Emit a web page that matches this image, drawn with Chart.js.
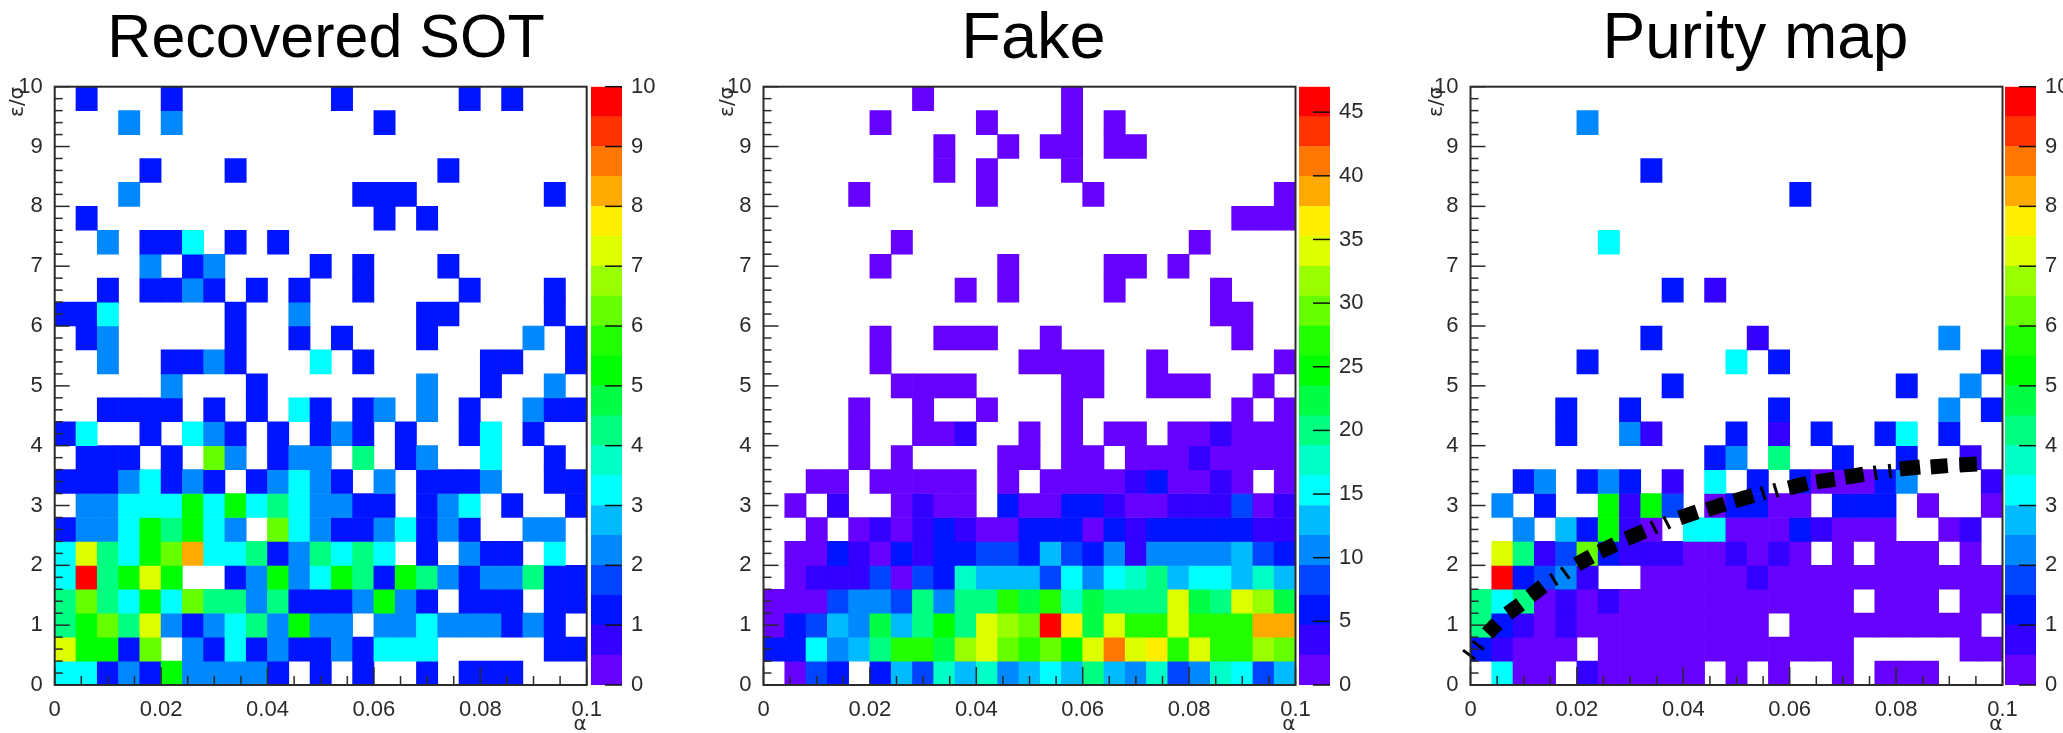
<!DOCTYPE html>
<html><head><meta charset="utf-8">
<script src="https://cdn.jsdelivr.net/npm/chart.js@4/dist/chart.umd.js"></script>
<style>html,body{margin:0;padding:0;background:#fff;width:2063px;height:733px;overflow:hidden}canvas{position:absolute;top:0}</style>
</head><body>
<script>
// bin centres of the alpha axis
const alphaBins = ["0.002","0.006","0.010","0.014","0.018","0.022","0.026","0.030","0.034","0.038","0.042","0.046","0.050","0.054","0.058","0.062","0.066","0.070","0.074","0.078","0.082","0.086","0.090","0.094","0.098"];
// lower edges of the epsilon/sigma rows, top row first
const rowLow = [9.6,9.2,8.8,8.4,8.0,7.6,7.2,6.8,6.4,6.0,5.6,5.2,4.8,4.4,4.0,3.6,3.2,2.8,2.4,2.0,1.6,1.2,0.8,0.4,0.0];
const palette = ["#6600ff","#3300ff","#0014ff","#0044ff","#0088ff","#00bbff","#00ffff","#00ffc8","#00ff80","#00ff44","#00ff00","#22ff00","#66ff00","#99ff00","#ddff00","#ffee00","#ffaa00","#ff7700","#ff3300","#ff0000"];
const alphaTicks = [0,0.02,0.04,0.06,0.08,0.1];
const alphaMinor = [0.005,0.01,0.015,0.025,0.03,0.035,0.045,0.05,0.055,0.065,0.07,0.075,0.085,0.09,0.095];
const epsTicks = [0,1,2,3,4,5,6,7,8,9,10];
const epsMinor = [0.2,0.4,0.6,0.8,1.2,1.4,1.6,1.8,2.2,2.4,2.6,2.8,3.2,3.4,3.6,3.8,4.2,4.4,4.6,4.8,5.2,5.4,5.6,5.8,6.2,6.4,6.6,6.8,7.2,7.4,7.6,7.8,8.2,8.4,8.6,8.8,9.2,9.4,9.6,9.8];
const barTicksSot = [0,1,2,3,4,5,6,7,8,9,10];
const barTicksFake = [0,5,10,15,20,25,30,35,40,45];
const titles = ["Recovered SOT","Fake","Purity map"];

const recoveredSot = [
[0,1,0,0,0,1,0,0,0,0,0,0,0,1,0,0,0,0,0,1,0,1,0,0,0],
[0,0,0,2,0,2,0,0,0,0,0,0,0,0,0,1,0,0,0,0,0,0,0,0,0],
[0,0,0,0,0,0,0,0,0,0,0,0,0,0,0,0,0,0,0,0,0,0,0,0,0],
[0,0,0,0,1,0,0,0,1,0,0,0,0,0,0,0,0,0,1,0,0,0,0,0,0],
[0,0,0,2,0,0,0,0,0,0,0,0,0,0,1,1,1,0,0,0,0,0,0,1,0],
[0,1,0,0,0,0,0,0,0,0,0,0,0,0,0,1,0,1,0,0,0,0,0,0,0],
[0,0,2,0,1,1,3,0,1,0,1,0,0,0,0,0,0,0,0,0,0,0,0,0,0],
[0,0,0,0,2,0,1,2,0,0,0,0,1,0,1,0,0,0,1,0,0,0,0,0,0],
[0,0,1,0,1,1,2,1,0,1,0,1,0,0,1,0,0,0,0,1,0,0,0,1,0],
[1,1,3,0,0,0,0,0,1,0,0,2,0,0,0,0,0,1,1,0,0,0,0,1,0],
[0,1,2,0,0,0,0,0,1,0,0,1,0,1,0,0,0,1,0,0,0,0,2,0,1],
[0,0,2,0,0,1,1,2,1,0,0,0,3,0,1,0,0,0,0,0,1,1,0,0,1],
[0,0,0,0,0,2,0,0,0,1,0,0,0,0,0,0,0,2,0,0,1,0,0,2,0],
[0,0,1,1,1,1,0,1,0,1,0,3,1,0,1,2,0,2,0,1,0,0,2,1,1],
[1,3,0,0,1,0,3,2,1,0,1,0,1,2,1,0,1,0,0,1,3,0,1,0,0],
[0,1,1,1,0,1,0,6,2,0,1,2,2,0,4,0,1,2,0,0,3,0,0,1,0],
[1,1,1,2,3,1,2,1,0,1,2,3,2,1,0,2,0,1,1,1,2,0,0,1,1],
[0,2,2,3,3,3,5,3,5,3,4,3,2,2,1,1,0,1,2,3,0,1,0,0,1],
[1,2,2,3,5,4,5,3,2,0,6,3,2,1,1,2,3,1,2,1,0,0,2,2,0],
[3,7,4,3,5,6,8,3,3,4,1,2,4,3,4,3,0,1,0,2,1,1,0,3,0],
[3,10,4,5,7,5,0,0,1,2,5,2,3,5,4,1,5,4,2,1,2,2,4,1,1],
[4,6,4,3,5,3,6,4,4,2,4,1,1,1,2,5,2,1,0,1,1,1,0,1,1],
[4,5,6,4,7,2,1,2,3,4,2,5,2,2,0,2,2,3,2,2,2,1,2,1,0],
[7,5,5,1,6,0,2,1,3,1,2,1,1,2,1,3,3,3,0,0,0,0,0,1,1],
[3,3,1,2,1,5,2,2,2,2,1,0,1,0,1,0,0,1,0,1,1,1,0,0,0]];

const fake = [
[0,0,0,0,0,0,0,1,0,0,0,0,0,0,1,0,0,0,0,0,0,0,0,0,0],
[0,0,0,0,0,1,0,0,0,0,1,0,0,0,1,0,1,0,0,0,0,0,0,0,0],
[0,0,0,0,0,0,0,0,1,0,0,1,0,1,1,0,1,1,0,0,0,0,0,0,0],
[0,0,0,0,0,0,0,0,1,0,1,0,0,0,1,0,0,0,0,0,0,0,0,0,0],
[0,0,0,0,1,0,0,0,0,0,1,0,0,0,0,1,0,0,0,0,0,0,0,0,1],
[0,0,0,0,0,0,0,0,0,0,0,0,0,0,0,0,0,0,0,0,0,0,1,1,1],
[0,0,0,0,0,0,1,0,0,0,0,0,0,0,0,0,0,0,0,0,1,0,0,0,0],
[0,0,0,0,0,1,0,0,0,0,0,1,0,0,0,0,1,1,0,1,0,0,0,0,0],
[0,0,0,0,0,0,0,0,0,1,0,1,0,0,0,0,1,0,0,0,0,1,0,0,0],
[0,0,0,0,0,0,0,0,0,0,0,0,0,0,0,0,0,0,0,0,0,1,1,0,0],
[0,0,0,0,0,1,0,0,1,1,1,0,0,1,0,0,0,0,0,0,0,0,1,0,0],
[0,0,0,0,0,1,0,0,0,0,0,0,1,1,1,1,0,0,1,0,0,0,0,0,1],
[0,0,0,0,0,0,1,1,1,1,0,0,0,0,1,1,0,0,1,1,1,0,0,1,0],
[0,0,0,0,1,0,0,1,0,0,1,0,0,0,1,0,0,0,0,0,0,0,1,0,1],
[0,0,0,0,1,0,0,1,1,3,0,0,1,0,1,0,1,1,0,1,1,3,1,1,1],
[0,0,0,0,1,0,1,0,0,0,0,1,1,0,1,1,0,1,1,1,3,1,1,1,1],
[0,0,1,1,0,1,1,1,1,1,0,1,0,1,1,1,1,3,6,1,1,3,1,0,1],
[0,1,0,3,0,0,1,3,1,1,0,6,1,1,6,6,3,1,1,3,3,3,8,1,3],
[0,0,1,0,1,3,1,3,6,3,1,1,6,6,6,1,6,3,6,6,6,6,6,3,3],
[0,1,1,6,3,1,6,3,6,6,8,8,6,13,8,6,11,3,11,11,11,11,13,8,6],
[0,1,3,3,3,8,1,8,6,17,13,13,13,8,15,11,15,17,19,13,15,15,13,17,13],
[1,1,1,8,11,11,8,20,11,20,20,27,22,27,18,22,20,20,20,34,22,20,34,31,22],
[1,6,8,13,11,22,13,20,24,20,34,31,29,46,36,22,34,27,27,34,27,27,27,39,39],
[6,6,15,11,13,20,27,27,22,31,34,29,27,29,24,34,41,34,36,27,34,27,27,31,29],
[0,1,8,6,0,6,13,8,17,13,17,11,13,15,13,20,13,11,17,8,11,17,15,8,13]];

const purity = [
[0,0,0,0,0,0,0,0,0,0,0,0,0,0,0,0,0,0,0,0,0,0,0,0,0],
[0,0,0,0,0,2,0,0,0,0,0,0,0,0,0,0,0,0,0,0,0,0,0,0,0],
[0,0,0,0,0,0,0,0,0,0,0,0,0,0,0,0,0,0,0,0,0,0,0,0,0],
[0,0,0,0,0,0,0,0,1,0,0,0,0,0,0,0,0,0,0,0,0,0,0,0,0],
[0,0,0,0,0,0,0,0,0,0,0,0,0,0,0,1,0,0,0,0,0,0,0,0,0],
[0,0,0,0,0,0,0,0,0,0,0,0,0,0,0,0,0,0,0,0,0,0,0,0,0],
[0,0,0,0,0,0,3,0,0,0,0,0,0,0,0,0,0,0,0,0,0,0,0,0,0],
[0,0,0,0,0,0,0,0,0,0,0,0,0,0,0,0,0,0,0,0,0,0,0,0,0],
[0,0,0,0,0,0,0,0,0,1,0,0.7,0,0,0,0,0,0,0,0,0,0,0,0,0],
[0,0,0,0,0,0,0,0,0,0,0,0,0,0,0,0,0,0,0,0,0,0,0,0,0],
[0,0,0,0,0,0,0,0,1,0,0,0,0,0.7,0,0,0,0,0,0,0,0,2,0,0],
[0,0,0,0,0,1,0,0,0,0,0,0,3,0,1,0,0,0,0,0,0,0,0,0,1],
[0,0,0,0,0,0,0,0,0,1,0,0,0,0,0,0,0,0,0,0,1,0,0,2,0],
[0,0,0,0,1,0,0,1,0,0,0,0,0,0,1,0,0,0,0,0,0,0,2,0,1],
[0,0,0,0,1,0,0,2,0.7,0,0,0,1,0,0.7,0,1,0,0,1,3,0,1,0,0],
[0,0,0,0,0,0,0,0,0,0,0,1,2,0,4,0,0,1,0,0,1,0,0,0.7,0],
[0,0,1,2,0,1,2,1,0,0.7,0,3,0,1,0,1,0.2,0.2,0.2,1,2,0,0,0,0.7],
[0,2,0,1,0,0,5,0.7,5,1.7,0,0.2,1,1,0.2,0.2,0,1,1,1,0,0.2,0,0,0.2],
[0,0,2,0,2.7,1,5,0.7,0.2,0,3,3,0.2,0.2,0.2,1,0.7,0.2,0.2,0.2,0,0,0.2,0.7,0],
[0,7,4,0.7,1.7,6,1.2,0.7,0.7,0.7,0.2,0.2,0.7,0.2,0.7,0.2,0,0.2,0,0.2,0.2,0.2,0,0.2,0],
[0,10,1,1.7,2,0.7,0,0,0.2,0.2,0.2,0.2,0.2,0.7,0.2,0.2,0.2,0.2,0.2,0.2,0.2,0.2,0.2,0.2,0.2],
[4,3,4,0.2,0.7,0.2,0.7,0.2,0.2,0.2,0.2,0.2,0.2,0.2,0.2,0.2,0.2,0.2,0,0.2,0.2,0.2,0,0.2,0.2],
[4,1,0.7,0.2,0.7,0.2,0.2,0.2,0.2,0.2,0.2,0.2,0.2,0.2,0,0.2,0.2,0.2,0.2,0.2,0.2,0.2,0.2,0.2,0],
[1,0.7,0.2,0.2,0.2,0,0.2,0.2,0.2,0.2,0.2,0.2,0.2,0.2,0.2,0.2,0.2,0.2,0,0,0,0,0,0.2,0.2],
[0,3,0.2,0.2,0,0.7,0.2,0.2,0.2,0.2,0.2,0,0.2,0,0.2,0,0,0.2,0,0.2,0.2,0.2,0,0,0]];

// dashed curve on the purity map: each entry is alpha0, y0, alpha1, y1
const curveThick = [
[0.0032,0.861,0.0050,1.028],[0.0070,1.194,0.0094,1.350],[0.0112,1.483,0.0136,1.650],
[0.0200,2.017,0.0227,2.150],[0.0243,2.228,0.0272,2.350],[0.0293,2.444,0.0327,2.572],
[0.0393,2.794,0.0426,2.894],[0.0445,2.933,0.0478,3.028],[0.0496,3.078,0.0531,3.167],
[0.0598,3.294,0.0633,3.372],[0.0650,3.394,0.0685,3.439],[0.0704,3.472,0.0739,3.522],
[0.0807,3.611,0.0845,3.644],[0.0865,3.644,0.0897,3.667],[0.0919,3.678,0.0952,3.694]];
const curveThin = [
[-0.0014,0.583,0.0009,0.428],[0.0004,0.733,0.0025,0.594],
[0.0150,1.861,0.0163,1.667],[0.0170,1.972,0.0186,1.778],
[0.0339,2.739,0.0351,2.528],[0.0363,2.817,0.0375,2.611],
[0.0546,3.317,0.0554,3.094],[0.0570,3.372,0.0578,3.139],
[0.0759,3.667,0.0763,3.428],[0.0787,3.694,0.0790,3.461]];

const FONT = "'Liberation Sans', Arial, sans-serif";
const TICKFONT = "'Liberation Sans Narrow', 'Liberation Sans', Arial, sans-serif";
const SYMFONT = "'DejaVu Sans', sans-serif";
const TICKSIZE = 22;
const INK = "#2a2a2a";
const levelColor = (z, zMax) => palette[Math.min(19, Math.floor(z / zMax * 20 + 1e-9))];

const frameTicks = {
  id: 'frameTicks',
  afterDatasetsDraw(chart) {
    const {ctx, chartArea: a, scales} = chart;
    const xs = scales.xLin, ys = scales.y;
    ctx.save();
    ctx.strokeStyle = INK; ctx.lineWidth = 1.5;
    const seg = (x0, y0, x1, y1) => { ctx.beginPath(); ctx.moveTo(x0, y0); ctx.lineTo(x1, y1); ctx.stroke(); };
    alphaTicks.forEach(v => seg(xs.getPixelForValue(v), a.bottom, xs.getPixelForValue(v), a.bottom - 18));
    alphaMinor.forEach(v => seg(xs.getPixelForValue(v), a.bottom, xs.getPixelForValue(v), a.bottom - 9));
    epsTicks.forEach(v => seg(a.left, ys.getPixelForValue(v), a.left + 15, ys.getPixelForValue(v)));
    epsMinor.forEach(v => seg(a.left, ys.getPixelForValue(v), a.left + 8, ys.getPixelForValue(v)));
    ctx.lineWidth = 2;
    ctx.strokeRect(a.left, a.top, a.right - a.left, a.bottom - a.top);
    ctx.restore();
  }
};

const barTickMarks = {
  id: 'barTickMarks',
  afterDatasetsDraw(chart) {
    const {ctx, chartArea: a, scales} = chart;
    ctx.save();
    ctx.strokeStyle = "#111"; ctx.lineWidth = 1.5;
    scales.y.ticks.forEach(t => {
      const y = scales.y.getPixelForValue(t.value);
      ctx.beginPath(); ctx.moveTo(a.right, y); ctx.lineTo(a.right - 17, y); ctx.stroke();
    });
    ctx.restore();
  }
};

function addCanvas(left, width) {
  const c = document.createElement('canvas');
  c.width = width; c.height = 733;
  c.style.left = left + 'px'; c.style.width = width + 'px'; c.style.height = '733px';
  document.body.appendChild(c);
  return c.getContext('2d');
}

function heatmap(cfg) {
  const datasets = cfg.rows.map((row, r) => ({
    type: 'bar',
    xAxisID: 'x', yAxisID: 'y',
    data: row.map(z => z > 0 ? [rowLow[r], rowLow[r] + 0.4] : null),
    backgroundColor: row.map(z => z > 0 ? levelColor(z, cfg.zMax) : 'rgba(0,0,0,0)'),
    barPercentage: 1, categoryPercentage: 1, grouped: false, borderWidth: 0
  }));
  (cfg.curves || []).forEach(c => c.list.forEach(d => datasets.push({
    type: 'line', xAxisID: 'xLin', yAxisID: 'y', order: -1, clip: false,
    data: [{x: d[0], y: d[1]}, {x: d[2], y: d[3]}],
    borderColor: '#000', borderWidth: c.width, borderCapStyle: 'butt', pointRadius: 0, tension: 0
  })));
  const titleTop = 40 - 0.6 * cfg.titleSize;
  new Chart(addCanvas(cfg.left, cfg.width), {
    data: {labels: alphaBins, datasets},
    plugins: [frameTicks],
    options: {
      responsive: false, animation: false, devicePixelRatio: 1,
      layout: {padding: 0, autoPadding: false},
      plugins: {
        legend: {display: false}, tooltip: {enabled: false},
        title: {display: true, text: cfg.title, color: '#000',
          font: {family: FONT, size: cfg.titleSize, weight: 'normal', lineHeight: 1.2},
          padding: {top: titleTop, bottom: 86.7 - 1.2 * cfg.titleSize - titleTop}}
      },
      scales: {
        x: {type: 'category', display: false, offset: true},
        xLin: {type: 'linear', axis: 'x', position: 'bottom', min: 0, max: 0.1,
          grid: {display: false}, border: {display: false},
          afterBuildTicks: s => { s.ticks = alphaTicks.map(value => ({value})); },
          afterFit: s => { s.height = 48; },
          ticks: {color: INK, font: {family: TICKFONT, size: TICKSIZE}, padding: 4, maxRotation: 0, autoSkip: false,
            callback: v => String(v)},
          title: {display: true, text: 'α', align: 'end', color: INK, padding: 0,
            font: {family: SYMFONT, size: 20, lineHeight: 0.85}}},
        y: {type: 'linear', position: 'left', min: 0, max: 10,
          grid: {display: false}, border: {display: false},
          afterBuildTicks: s => { s.ticks = epsTicks.map(value => ({value})); },
          afterFit: s => { s.width = cfg.axisWidth; },
          ticks: {color: INK, font: {family: TICKFONT, size: TICKSIZE}, padding: 4, autoSkip: false},
          title: {display: true, text: 'ε/σ', align: 'end', color: INK, padding: {top: 8, bottom: 0},
            font: {family: SYMFONT, size: 20, lineHeight: 1}}},
        pad: {type: 'linear', position: 'right', display: true,
          grid: {display: false}, border: {display: false}, ticks: {display: false},
          afterFit: s => { s.width = cfg.padRight; }}
      }
    }
  });
}

function colorBar(left, zMax, ticks) {
  const step = zMax / palette.length;
  new Chart(addCanvas(left, 72), {
    data: {labels: ['z'], datasets: palette.map((col, i) => ({
      type: 'bar', data: [[i * step, (i + 1) * step]], backgroundColor: col,
      barPercentage: 1, categoryPercentage: 1, grouped: false, borderWidth: 0}))},
    plugins: [barTickMarks],
    options: {
      responsive: false, animation: false, devicePixelRatio: 1,
      layout: {padding: {top: 86.7, bottom: 48, left: 0, right: 0}, autoPadding: false},
      plugins: {legend: {display: false}, tooltip: {enabled: false}, title: {display: false}},
      scales: {
        x: {type: 'category', display: false, offset: true},
        y: {type: 'linear', position: 'right', min: 0, max: zMax,
          grid: {display: false}, border: {display: false},
          afterBuildTicks: s => { s.ticks = ticks.map(value => ({value})); },
          afterFit: s => { s.width = 41; },
          ticks: {color: INK, font: {family: TICKFONT, size: TICKSIZE}, padding: 1, autoSkip: false}}
      }
    }
  });
}

heatmap({rows: recoveredSot, zMax: 10, title: titles[0], titleSize: 61, left: 0, width: 652, axisWidth: 54.7, padRight: 65.3});
heatmap({rows: fake, zMax: 47, title: titles[1], titleSize: 65, left: 709.5, width: 647, axisWidth: 53.5, padRight: 61.5});
heatmap({rows: purity, zMax: 10, title: titles[2], titleSize: 64, left: 1418.5, width: 673, axisWidth: 51.5, padRight: 89.5,
  curves: [{list: curveThick, width: 15}, {list: curveThin, width: 3}]});
colorBar(591, 10, barTicksSot);
colorBar(1298.5, 47, barTicksFake);
colorBar(2005, 10, barTicksSot);
</script>
</body></html>
